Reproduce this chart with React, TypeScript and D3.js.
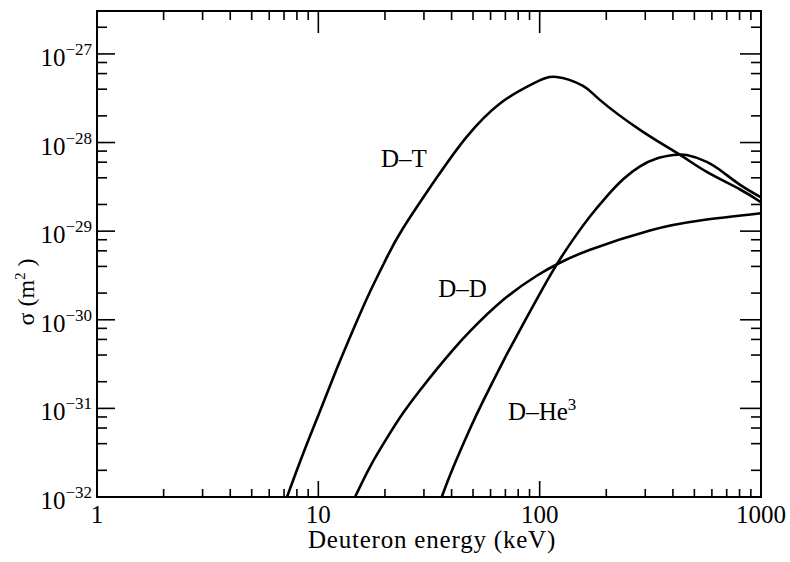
import React, { useEffect, useRef } from "react";
import * as d3 from "d3";

// deuteron energy (keV) and cross section (m^2)
const dtEnergy = [7.22, 8.55, 10.2, 12.1, 14.4, 17.1, 20.4, 24.1, 34.3, 46.8, 66.2, 93.4, 119, 157, 187, 284, 431, 569, 805, 1000];
const dtSigma = [1e-32, 3.11e-32, 9.46e-32, 2.78e-31, 7.83e-31, 2.06e-30, 5.05e-30, 1.07e-29, 4.02e-29, 1.16e-28, 2.76e-28, 4.62e-28, 5.5e-28, 4.35e-28, 3.03e-28, 1.39e-28, 7.24e-29, 4.66e-29, 2.95e-29, 2.12e-29];

const ddEnergy = [14.65, 17.1, 20.4, 24.1, 28.8, 34.3, 40.6, 48.5, 68.5, 97, 121, 169, 315, 531, 1000];
const ddSigma = [1e-32, 2.18e-32, 4.61e-32, 8.79e-32, 1.6e-31, 2.77e-31, 4.57e-31, 7.43e-31, 1.68e-30, 3.14e-30, 4.29e-30, 6.18e-30, 1.02e-29, 1.32e-29, 1.59e-29];

const dhe3Energy = [36.1, 40.7, 48.5, 55.5, 68.5, 78.8, 90.5, 103.6, 119.5, 142, 169, 201, 239, 284, 338, 402, 462, 569, 676, 805, 1000];
const dhe3Sigma = [1e-32, 2.16e-32, 5.93e-32, 1.21e-31, 3.42e-31, 6.58e-31, 1.24e-30, 2.29e-30, 4.22e-30, 8.13e-30, 1.47e-29, 2.47e-29, 3.87e-29, 5.38e-29, 6.62e-29, 7.23e-29, 7.23e-29, 6.05e-29, 4.59e-29, 3.33e-29, 2.4e-29];

const xTickLabels = ["1", "10", "100", "1000"];
const yExponents = [-32, -31, -30, -29, -28, -27];

const curveLabels = [
  { text: "D–T", sup: "", e: 19.2, s: 5.35e-29 },
  { text: "D–D", sup: "", e: 34.8, s: 1.82e-30 },
  { text: "D–He", sup: "3", e: 72, s: 7.4e-32 },
];

const W = 790;
const H = 562;
const FONT = "'Liberation Serif', 'Times New Roman', serif";

export default function App() {
  const ref = useRef<SVGSVGElement>(null);

  useEffect(() => {
    const svg = d3.select(ref.current);
    svg.selectAll("*").remove();

    const left = 97, right = 761, top = 11, bottom = 497;
    const x = d3.scaleLog().domain([1, 1000]).range([left, right]);
    const y = d3.scaleLog().domain([1e-32, 3.05e-27]).range([bottom, top]);

    const isMajor = (v: number) => Math.abs(Math.log10(v) - Math.round(Math.log10(v))) < 1e-6;
    const mant = (v: number) => Math.round(v / Math.pow(10, Math.floor(Math.log10(v) + 1e-9)));

    const g = svg.append("g");

    // frame
    g.append("rect")
      .attr("x", left).attr("y", top)
      .attr("width", right - left).attr("height", bottom - top)
      .attr("fill", "none").attr("stroke", "#000").attr("stroke-width", 2);

    // x ticks (bottom and top)
    x.ticks().forEach((v) => {
      const px = x(v);
      const maj = isMajor(v);
      if (px <= left + 0.5 || px >= right - 0.5) return;
      g.append("line").attr("x1", px).attr("x2", px)
        .attr("y1", bottom).attr("y2", bottom - (maj ? 16 : 8))
        .attr("stroke", "#000").attr("stroke-width", 1.6);
      g.append("line").attr("x1", px).attr("x2", px)
        .attr("y1", top).attr("y2", top + (maj ? 22 : 9))
        .attr("stroke", "#000").attr("stroke-width", 1.6);
    });

    // y ticks (left and right): decades plus 2,4,6,8
    const yt = y.ticks().filter((v) => [1, 2, 4, 6, 8].includes(mant(v)));
    yt.forEach((v) => {
      const py = y(v);
      const maj = isMajor(v);
      if (py >= bottom - 0.5) return;
      g.append("line").attr("x1", left).attr("x2", left + (maj ? 18 : 10))
        .attr("y1", py).attr("y2", py)
        .attr("stroke", "#000").attr("stroke-width", 1.6);
      g.append("line").attr("x1", right).attr("x2", right - (maj ? 21 : 10))
        .attr("y1", py).attr("y2", py)
        .attr("stroke", "#000").attr("stroke-width", 1.6);
    });

    // x tick labels
    xTickLabels.forEach((t) => {
      g.append("text")
        .attr("x", x(+t)).attr("y", bottom + 26)
        .attr("text-anchor", "middle")
        .attr("font-family", FONT).attr("font-size", 25)
        .text(t);
    });

    // y tick labels
    yExponents.forEach((e) => {
      const t = g.append("text")
        .attr("x", left - 5).attr("y", y(Math.pow(10, e)) + 12)
        .attr("text-anchor", "end")
        .attr("font-family", FONT).attr("font-size", 25);
      t.append("tspan").text("10");
      t.append("tspan").attr("dy", -11).attr("font-size", 17).text("−" + Math.abs(e));
    });

    // axis titles
    g.append("text")
      .attr("x", (left + right) / 2 + 3).attr("y", 548)
      .attr("text-anchor", "middle")
      .attr("font-family", FONT).attr("font-size", 25)
      .attr("letter-spacing", 0.8)
      .text("Deuteron energy (keV)");

    const yt2 = g.append("text")
      .attr("transform", `translate(34,292) rotate(-90)`)
      .attr("text-anchor", "middle")
      .attr("font-family", FONT).attr("font-size", 24);
    yt2.append("tspan").text("σ (m");
    yt2.append("tspan").attr("dy", -9).attr("font-size", 15).text("2");
    yt2.append("tspan").attr("dy", 9).text(" )");

    // curves
    const line = d3.line<[number, number]>()
      .x((d) => x(d[0]))
      .y((d) => y(d[1]))
      .curve(d3.curveNatural);

    const series: [number[], number[]][] = [
      [dtEnergy, dtSigma],
      [ddEnergy, ddSigma],
      [dhe3Energy, dhe3Sigma],
    ];
    series.forEach(([es, ss]) => {
      const pts = es.map((e, i) => [e, ss[i]] as [number, number]);
      g.append("path")
        .attr("d", line(pts))
        .attr("fill", "none")
        .attr("stroke", "#000")
        .attr("stroke-width", 2.6)
        .attr("stroke-linejoin", "round");
    });

    // curve labels
    curveLabels.forEach((c) => {
      const t = g.append("text")
        .attr("x", x(c.e)).attr("y", y(c.s))
        .attr("font-family", FONT).attr("font-size", 25);
      t.append("tspan").text(c.text);
      if (c.sup) t.append("tspan").attr("dy", -10).attr("font-size", 17).text(c.sup);
    });
  }, []);

  return (
    <svg
      ref={ref}
      width={W}
      height={H}
      style={{ position: "absolute", left: 0, top: 0, background: "#fff" }}
    />
  );
}
